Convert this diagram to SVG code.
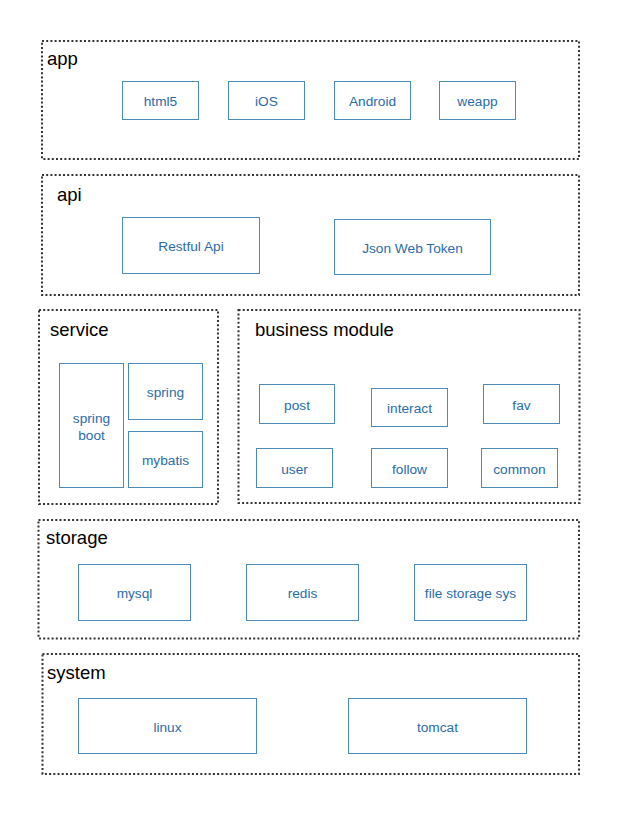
<svg xmlns="http://www.w3.org/2000/svg" width="618" height="813" viewBox="0 0 618 813">
<style>
.grp{fill:none;stroke:#333;stroke-width:2;stroke-dasharray:2 2.2}
.box{fill:#fff;stroke:#4a8bb8;stroke-width:1}
.lbl{font-family:"Liberation Sans",Arial,sans-serif;font-size:18.5px;fill:#000}
.t{font-family:"Liberation Sans",Arial,sans-serif;font-size:13.7px;fill:#2c6ca6;text-anchor:middle}
</style>
<rect width="618" height="813" fill="#fff"/>
<g id="app">
<rect class="grp" x="42" y="41" width="537" height="118"/>
<text class="lbl" x="47" y="65">app</text>
<g id="html5"><rect class="box" x="122.5" y="81.5" width="76" height="38"/><text class="t" x="160.5" y="106">html5</text></g>
<g id="ios"><rect class="box" x="228.5" y="81.5" width="76" height="38"/><text class="t" x="266.5" y="106">iOS</text></g>
<g id="android"><rect class="box" x="334.5" y="81.5" width="76" height="38"/><text class="t" x="372.5" y="106">Android</text></g>
<g id="weapp"><rect class="box" x="439.5" y="81.5" width="76" height="38"/><text class="t" x="477.5" y="106">weapp</text></g>
</g>
<g id="api">
<rect class="grp" x="42" y="175" width="537" height="120"/>
<text class="lbl" x="57" y="201">api</text>
<g id="restful"><rect class="box" x="122.5" y="217.5" width="137" height="56"/><text class="t" x="191" y="251">Restful Api</text></g>
<g id="jwt"><rect class="box" x="334.5" y="219.5" width="156" height="55"/><text class="t" x="412.5" y="252.5">Json Web Token</text></g>
</g>
<g id="service">
<rect class="grp" x="39" y="310" width="179" height="194"/>
<text class="lbl" x="50" y="336">service</text>
<g id="springboot"><rect class="box" x="59.5" y="363.5" width="64" height="124"/><text class="t" x="91.5" y="423">spring</text><text class="t" x="91.5" y="439.5">boot</text></g>
<g id="spring"><rect class="box" x="128.5" y="363.5" width="74" height="56"/><text class="t" x="165.5" y="397">spring</text></g>
<g id="mybatis"><rect class="box" x="128.5" y="431.5" width="74" height="56"/><text class="t" x="165.5" y="465">mybatis</text></g>
</g>
<g id="business">
<rect class="grp" x="238.5" y="310" width="341" height="193"/>
<text class="lbl" x="255" y="336">business module</text>
<g id="post"><rect class="box" x="259.5" y="384.5" width="75" height="39"/><text class="t" x="297" y="409.5">post</text></g>
<g id="interact"><rect class="box" x="371.5" y="388.5" width="76" height="38"/><text class="t" x="409.5" y="413">interact</text></g>
<g id="fav"><rect class="box" x="483.5" y="384.5" width="76" height="39"/><text class="t" x="521.5" y="409.5">fav</text></g>
<g id="user"><rect class="box" x="256.5" y="448.5" width="76" height="39"/><text class="t" x="294.5" y="473.5">user</text></g>
<g id="follow"><rect class="box" x="371.5" y="448.5" width="76" height="39"/><text class="t" x="409.5" y="473.5">follow</text></g>
<g id="common"><rect class="box" x="481.5" y="448.5" width="76" height="39"/><text class="t" x="519.5" y="473.5">common</text></g>
</g>
<g id="storage">
<rect class="grp" x="38.5" y="520" width="540.5" height="118.5"/>
<text class="lbl" x="46" y="544">storage</text>
<g id="mysql"><rect class="box" x="78.5" y="564.5" width="112" height="56"/><text class="t" x="134.5" y="598">mysql</text></g>
<g id="redis"><rect class="box" x="246.5" y="564.5" width="112" height="56"/><text class="t" x="302.5" y="598">redis</text></g>
<g id="filestorage"><rect class="box" x="414.5" y="564.5" width="112" height="56"/><text class="t" x="470.5" y="598">file storage sys</text></g>
</g>
<g id="system">
<rect class="grp" x="42.5" y="654" width="536.5" height="120"/>
<text class="lbl" x="47" y="679">system</text>
<g id="linux"><rect class="box" x="78.5" y="698.5" width="178" height="55"/><text class="t" x="167.5" y="731.5">linux</text></g>
<g id="tomcat"><rect class="box" x="348.5" y="698.5" width="178" height="55"/><text class="t" x="437.5" y="731.5">tomcat</text></g>
</g>
<g id="connectors"/>
</svg>
